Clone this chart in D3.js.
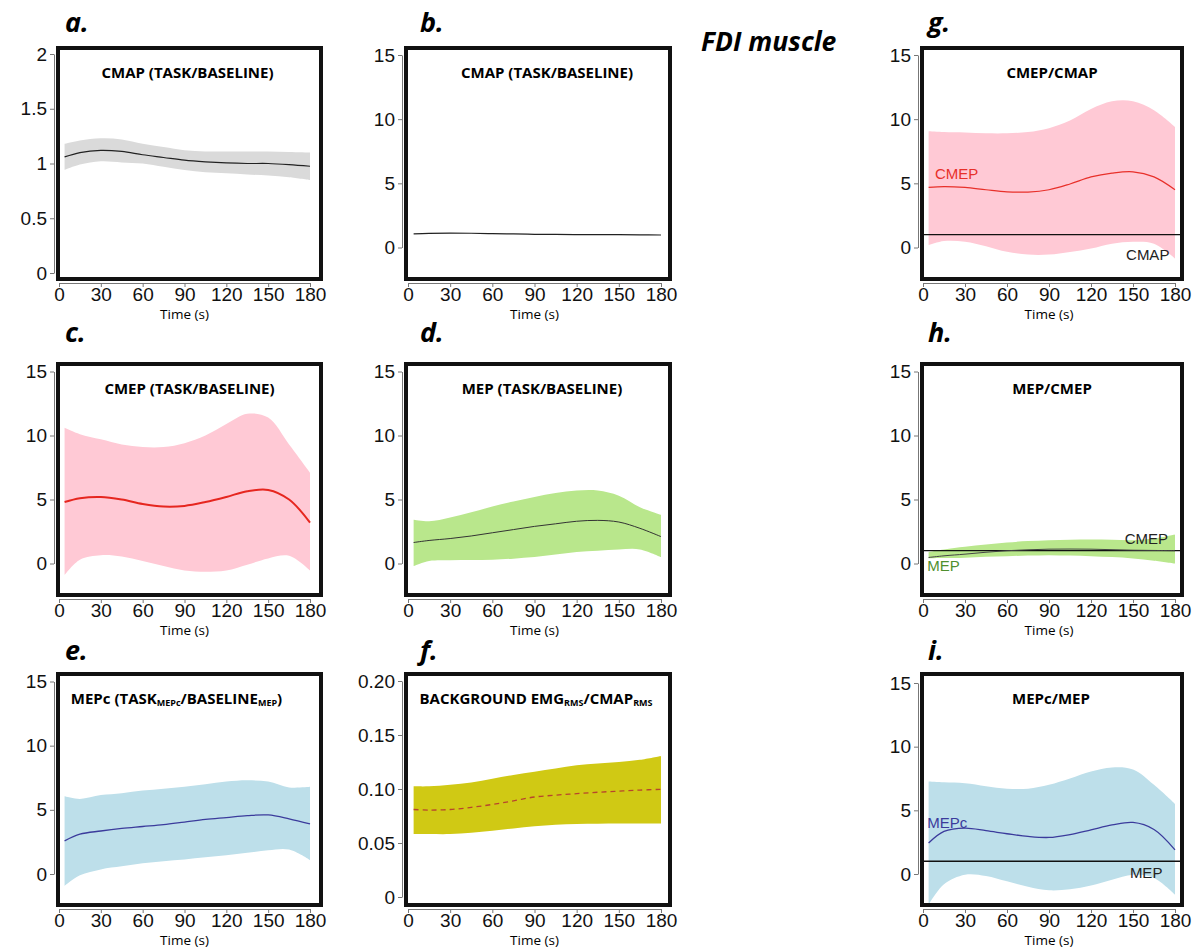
<!DOCTYPE html>
<html>
<head>
<meta charset="utf-8">
<script src="https://cdn.jsdelivr.net/npm/d3@7"></script>
<style>
  body { margin: 0; background: #fff; }
  svg { display: block; }
</style>
</head>
<body>
<div id="chart"></div>
<script>
// time points (s)
const times = [4, 15, 30, 45, 60, 75, 90, 105, 120, 135, 150, 165, 180];

// a./b. CMAP task/baseline
const cmapMean = [1.06, 1.10, 1.12, 1.11, 1.08, 1.055, 1.03, 1.015, 1.005, 1.0, 1.0, 0.99, 0.975];
const cmapUpper = [1.18, 1.21, 1.23, 1.22, 1.18, 1.15, 1.12, 1.11, 1.11, 1.11, 1.11, 1.105, 1.10];
const cmapLower = [0.94, 0.99, 1.02, 1.01, 1.00, 0.97, 0.94, 0.92, 0.91, 0.90, 0.89, 0.875, 0.85];

// c. CMEP task/baseline
const cmepMean = [4.8, 5.1, 5.2, 5.0, 4.65, 4.45, 4.5, 4.8, 5.2, 5.65, 5.75, 5.0, 3.2];
const cmepUpper = [10.6, 10.1, 9.7, 9.3, 9.1, 9.1, 9.4, 10.0, 10.9, 11.7, 11.4, 9.3, 7.1];
const cmepLower = [-0.9, 0.3, 0.65, 0.55, 0.2, -0.2, -0.55, -0.65, -0.55, -0.1, 0.4, 0.6, -0.55];

// d. MEP task/baseline
const mepMean = [1.64, 1.8, 1.95, 2.15, 2.4, 2.65, 2.9, 3.1, 3.3, 3.37, 3.24, 2.75, 2.1];
const mepUpper = [3.42, 3.3, 3.6, 4.0, 4.45, 4.85, 5.2, 5.5, 5.7, 5.7, 5.3, 4.4, 3.8];
const mepLower = [-0.2, 0.2, 0.26, 0.28, 0.3, 0.38, 0.5, 0.7, 0.9, 1.0, 1.1, 1.1, 0.5];

// e. MEPc task/baseline
const mepcMean = [2.58, 3.1, 3.35, 3.55, 3.7, 3.85, 4.05, 4.25, 4.4, 4.55, 4.6, 4.3, 3.9];
const mepcUpper = [6.05, 5.85, 6.15, 6.3, 6.5, 6.65, 6.8, 7.0, 7.2, 7.3, 7.2, 6.75, 6.8];
const mepcLower = [-0.93, -0.1, 0.36, 0.6, 0.83, 1.0, 1.13, 1.3, 1.47, 1.65, 1.85, 1.9, 1.08];

// f. background EMG rms / CMAP rms
const emgMean = [0.081, 0.0805, 0.081, 0.083, 0.0857, 0.089, 0.0926, 0.0943, 0.0957, 0.097, 0.098, 0.099, 0.0997];
const emgUpper = [0.1025, 0.1025, 0.104, 0.106, 0.1096, 0.113, 0.116, 0.119, 0.122, 0.1235, 0.125, 0.127, 0.1306];
const emgLower = [0.0583, 0.0583, 0.0583, 0.0595, 0.0614, 0.0635, 0.0654, 0.0668, 0.0676, 0.0678, 0.068, 0.068, 0.068];

// g. CMEP/CMAP
const cmepCmapMean = [4.68, 4.75, 4.68, 4.5, 4.34, 4.32, 4.5, 4.95, 5.5, 5.8, 5.9, 5.5, 4.5];
const cmepCmapUpper = [9.06, 9.0, 8.96, 8.9, 8.9, 9.0, 9.3, 9.9, 10.8, 11.4, 11.4, 10.7, 9.4];
const cmepCmapLower = [0.18, 0.5, 0.45, 0.1, -0.34, -0.55, -0.55, -0.35, -0.08, 0.3, 0.45, 0.3, -0.86];

// h. MEP/CMEP
const mepCmepMean = [0.47, 0.6, 0.73, 0.88, 1.0, 1.07, 1.12, 1.13, 1.12, 1.08, 1.04, 1.02, 1.0];
const mepCmepUpper = [0.9, 1.1, 1.3, 1.48, 1.64, 1.75, 1.82, 1.85, 1.87, 1.85, 1.82, 1.95, 2.27];
const mepCmepLower = [0.4, 0.42, 0.45, 0.52, 0.57, 0.62, 0.65, 0.62, 0.57, 0.5, 0.4, 0.22, 0.0];

// i. MEPc/MEP
const mepcMepMean = [2.43, 3.34, 3.6, 3.4, 3.16, 2.95, 2.87, 3.1, 3.47, 3.85, 4.05, 3.5, 1.9];
const mepcMepUpper = [7.26, 7.2, 7.13, 6.9, 6.7, 6.7, 7.0, 7.5, 8.04, 8.36, 8.2, 7.0, 5.5];
const mepcMepLower = [-2.4, -0.8, -0.05, -0.15, -0.57, -1.0, -1.28, -1.2, -0.91, -0.45, -0.05, -0.31, -1.62];

// ticks
const xTicks = [0, 30, 60, 90, 120, 150, 180];
const yTicks15 = [0, 5, 10, 15];
const yTickLabels15 = ["0", "5", "10", "15"];
const yTicksA = [0, 0.5, 1, 1.5, 2];
const yTickLabelsA = ["0", "0.5", "1", "1.5", "2"];
const yTicksF = [0, 0.05, 0.1, 0.15, 0.2];
const yTickLabelsF = ["0", "0.05", "0.10", "0.15", "0.20"];

const width = 1192;
const height = 949;

// layout of the grid (outer box edges, and where t=0 / t=180 land)
const cols = [
  {box: [56, 323], x: [59, 310], labelX: 65},
  {box: [404, 672], x: [408, 661], labelX: 420},
  {box: [920, 1184], x: [923, 1175], labelX: 928}
];
const rows = [
  {box: [46, 281], labelY: 32},
  {box: [362, 597], labelY: 342},
  {box: [672, 907], labelY: 660}
];

const panels = [
  {id: "a", col: 0, row: 0, title: [["CMAP (TASK/BASELINE)"]], titleDx: -2,
   mean: cmapMean, upper: cmapUpper, lower: cmapLower, band: "#dadada", line: "#222", lw: 1.2,
   ticks: yTicksA, tickLabels: yTickLabelsA, yDomain: [0, 2], yOff: [227, 8]},
  {id: "b", col: 1, row: 0, title: [["CMAP (TASK/BASELINE)"]], titleDx: 9,
   mean: cmapMean, upper: null, lower: null, band: null, line: "#222", lw: 1.2,
   ticks: yTicks15, tickLabels: yTickLabels15, yDomain: [0, 15], yOff: [201.5, 9]},
  {id: "c", col: 0, row: 1, title: [["CMEP (TASK/BASELINE)"]], titleDx: 0,
   mean: cmepMean, upper: cmepUpper, lower: cmepLower, band: "#ffc9d5", line: "#e6261f", lw: 2,
   ticks: yTicks15, tickLabels: yTickLabels15, yDomain: [0, 15], yOff: [201.5, 9.5]},
  {id: "d", col: 1, row: 1, title: [["MEP (TASK/BASELINE)"]], titleDx: 4,
   mean: mepMean, upper: mepUpper, lower: mepLower, band: "#b9e78c", line: "#333", lw: 1,
   ticks: yTicks15, tickLabels: yTickLabels15, yDomain: [0, 15], yOff: [201.5, 9.5]},
  {id: "e", col: 0, row: 2, title: [["MEPc (TASK"], ["MEPc", "sub"], ["/BASELINE"], ["MEP", "sub"], [")"]], titleDx: -13,
   mean: mepcMean, upper: mepcUpper, lower: mepcLower, band: "#bddfea", line: "#3b3b9c", lw: 1.3,
   ticks: yTicks15, tickLabels: yTickLabels15, yDomain: [0, 15], yOff: [202, 9.5]},
  {id: "f", col: 1, row: 2, title: [["BACKGROUND EMG"], ["RMS", "sub"], ["/CMAP"], ["RMS", "sub"]], titleDx: -2,
   mean: emgMean, upper: emgUpper, lower: emgLower, band: "#d0c914", line: "#b8452c", lw: 1.3, dash: "5,4",
   ticks: yTicksF, tickLabels: yTickLabelsF, yDomain: [0, 0.2], yOff: [225, 9]},
  {id: "g", col: 2, row: 0, title: [["CMEP/CMAP"]], titleDx: 0,
   mean: cmepCmapMean, upper: cmepCmapUpper, lower: cmepCmapLower, band: "#ffc9d5", line: "#e8302a", lw: 1.2,
   ticks: yTicks15, tickLabels: yTickLabels15, yDomain: [0, 15], yOff: [201.5, 9],
   refLine: 1,
   notes: [{text: "CMEP", t: 8.5, v: 5.3, anchor: "start", color: "#e8302a"},
           {text: "CMAP", t: 176, v: -1.0, anchor: "end", color: "#222"}]},
  {id: "h", col: 2, row: 1, title: [["MEP/CMEP"]], titleDx: 0,
   mean: mepCmepMean, upper: mepCmepUpper, lower: mepCmepLower, band: "#b9e78c", line: "#444", lw: 1,
   ticks: yTicks15, tickLabels: yTickLabels15, yDomain: [0, 15], yOff: [201.5, 9.5],
   refLine: 1,
   notes: [{text: "MEP", t: 3, v: -0.55, anchor: "start", color: "#4f8f2f"},
           {text: "CMEP", t: 175, v: 1.5, anchor: "end", color: "#222"}]},
  {id: "i", col: 2, row: 2, title: [["MEPc/MEP"]], titleDx: -1,
   mean: mepcMepMean, upper: mepcMepUpper, lower: mepcMepLower, band: "#bddfea", line: "#3b3b9c", lw: 1.3,
   ticks: yTicks15, tickLabels: yTickLabels15, yDomain: [0, 15], yOff: [202, 11],
   refLine: 1,
   notes: [{text: "MEPc", t: 3, v: 3.6, anchor: "start", color: "#3b3b9c"},
           {text: "MEP", t: 171, v: -0.3, anchor: "end", color: "#222"}]}
];

const svg = d3.select("#chart").append("svg")
  .attr("width", width).attr("height", height)
  .style("background", "#fff");

// big title
svg.append("text")
  .attr("x", 701).attr("y", 51)
  .style("font-family", "'Open Sans', sans-serif")
  .style("font-weight", "bold").style("font-style", "italic")
  .style("font-size", "26.5px")
  .text("FDI muscle");

panels.forEach(p => {
  let c = cols[p.col];
  let r = rows[p.row];
  let left = c.box[0], right = c.box[1], top = r.box[0], bottom = r.box[1];

  let x = d3.scaleLinear().domain([0, 180]).range(c.x);
  let y = d3.scaleLinear().domain(p.yDomain).range([top + p.yOff[0], top + p.yOff[1]]);

  let g = svg.append("g").attr("class", "panel-" + p.id);

  // clip to inside of box
  let clipId = "clip-" + p.id;
  svg.append("clipPath").attr("id", clipId)
    .append("rect")
    .attr("x", left + 4).attr("y", top + 4)
    .attr("width", right - left - 8).attr("height", bottom - top - 8);

  let plot = g.append("g").attr("clip-path", "url(#" + clipId + ")");

  let rowsData = times.map((t, i) => ({
    t: t,
    m: p.mean[i],
    lo: p.lower ? p.lower[i] : null,
    hi: p.upper ? p.upper[i] : null
  }));

  if (p.band) {
    let area = d3.area()
      .curve(d3.curveCatmullRom.alpha(0.5))
      .x(d => x(d.t))
      .y0(d => y(d.lo))
      .y1(d => y(d.hi));
    plot.append("path").attr("d", area(rowsData)).attr("fill", p.band);
  }

  if (p.refLine !== undefined) {
    plot.append("line")
      .attr("x1", left).attr("x2", right)
      .attr("y1", y(p.refLine)).attr("y2", y(p.refLine))
      .attr("stroke", "#111").attr("stroke-width", 1.3);
  }

  let line = d3.line()
    .curve(d3.curveCatmullRom.alpha(0.5))
    .x(d => x(d.t))
    .y(d => y(d.m));
  plot.append("path").attr("d", line(rowsData))
    .attr("fill", "none")
    .attr("stroke", p.line)
    .attr("stroke-width", p.lw)
    .attr("stroke-dasharray", p.dash || null);

  // side labels (g, h, i)
  (p.notes || []).forEach(n => {
    g.append("text")
      .attr("x", x(n.t)).attr("y", y(n.v))
      .attr("text-anchor", n.anchor)
      .attr("fill", n.color)
      .style("font-family", "'Liberation Sans', Arial, sans-serif")
      .style("font-size", "15px")
      .text(n.text);
  });

  // box
  g.append("rect")
    .attr("x", left + 2).attr("y", top + 2)
    .attr("width", right - left - 4).attr("height", bottom - top - 4)
    .attr("fill", "none").attr("stroke", "#111").attr("stroke-width", 4);

  // y axis
  let yAxis = d3.axisLeft(y).tickValues(p.ticks)
    .tickFormat((d, i) => p.tickLabels[i])
    .tickSize(4).tickSizeOuter(0).tickPadding(3);
  let ya = g.append("g").attr("transform", "translate(" + (left - 2) + ",0)").call(yAxis);
  ya.select(".domain").attr("stroke", "#777");
  ya.selectAll(".tick line").attr("stroke", "#777");
  ya.selectAll("text")
    .style("font-family", "'Liberation Sans', Arial, sans-serif")
    .style("font-size", "19px").attr("fill", "#111");

  // x axis
  let xAxis = d3.axisBottom(x).tickValues(xTicks)
    .tickSize(4).tickSizeOuter(0).tickPadding(1);
  let xa = g.append("g").attr("transform", "translate(0," + (bottom + 2) + ")").call(xAxis);
  xa.select(".domain").attr("stroke", "#777");
  xa.selectAll(".tick line").attr("stroke", "#777");
  xa.selectAll("text")
    .style("font-family", "'Liberation Sans', Arial, sans-serif")
    .style("font-size", "19px").attr("fill", "#111");

  g.append("text")
    .attr("x", x(90)).attr("y", bottom + 38)
    .attr("text-anchor", "middle")
    .style("font-family", "'Open Sans', sans-serif")
    .style("font-size", "13.5px")
    .text("Time (s)");

  // panel title, with small subscript parts
  let tt = g.append("text")
    .attr("x", (left + right) / 2 + p.titleDx).attr("y", top + 32)
    .attr("text-anchor", "middle")
    .style("font-family", "'Open Sans', sans-serif")
    .style("font-weight", "bold")
    .style("font-size", "15px");
  p.title.forEach(part => {
    let s = tt.append("tspan").text(part[0]);
    if (part[1] === "sub") {
      s.style("font-size", "9px").attr("dy", 1.5);
    } else {
      s.attr("dy", tt.selectAll("tspan").size() > 1 ? -1.5 : 0);
    }
  });

  // panel letter
  g.append("text")
    .attr("x", c.labelX).attr("y", r.labelY)
    .style("font-family", "'Open Sans', sans-serif")
    .style("font-weight", "bold").style("font-style", "italic")
    .style("font-size", "27px")
    .text(p.id + ".");
});
</script>
</body>
</html>
